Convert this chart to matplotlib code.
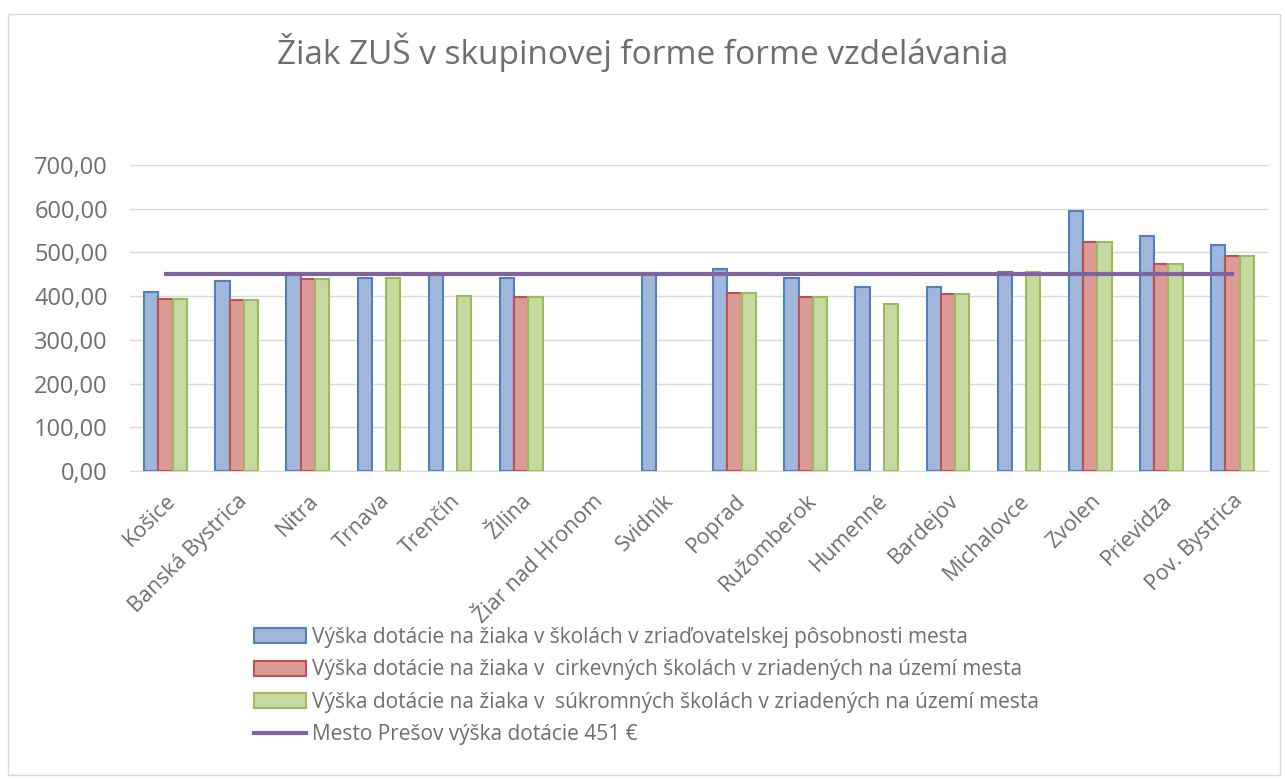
import numpy as np
import matplotlib
matplotlib.use("Agg")
import matplotlib.pyplot as plt
from matplotlib.patches import Rectangle, Patch
from matplotlib.lines import Line2D

plt.rcParams['font.family'] = ['Open Sans', 'DejaVu Sans']

categories = ["Košice", "Banská Bystrica", "Nitra", "Trnava", "Trenčín", "Žilina",
              "Žiar nad Hronom", "Svidník", "Poprad", "Ružomberok", "Humenné",
              "Bardejov", "Michalovce", "Zvolen", "Prievidza", "Pov. Bystrica"]
mestske = [410, 435, 452, 442, 452, 442, np.nan, 452, 462, 442, 422, 422, 456, 595, 537, 518]
cirkevne = [394, 391, 439, np.nan, np.nan, 397, np.nan, np.nan, 407, 397, np.nan, 405, np.nan, 524, 473, 492]
sukromne = [394, 391, 439, 442, 400, 397, np.nan, np.nan, 407, 397, 381, 405, 456, 524, 473, 492]
presov = 451
yticks = [0, 100, 200, 300, 400, 500, 600, 700]
labels = ["Výška dotácie na žiaka v školách v zriaďovatelskej pôsobnosti mesta",
          "Výška dotácie na žiaka v  cirkevných školách v zriadených na území mesta",
          "Výška dotácie na žiaka v  súkromných školách v zriadených na území mesta",
          "Mesto Prešov výška dotácie 451 €"]
title = "Žiak ZUŠ v skupinovej forme forme vzdelávania"

W, H = 1285, 783
txt = '#6e6e6e'
fig = plt.figure(figsize=(W / 100, H / 100), dpi=100)
fig.patches.append(Rectangle((8 / W, 1 - 775 / H), (1280 - 8) / W, (775 - 14) / H,
                             transform=fig.transFigure, fill=False,
                             edgecolor='#d9d9d9', linewidth=1))

ax = fig.add_axes([130 / W, 1 - 471 / H, (1268 - 130) / W, (471 - 165) / H])
x = np.arange(len(categories))
bw = 0.2
face = ['#a0b6db', '#dc9b99', '#c6d9a0']
edge = ['#4f81bd', '#c0504d', '#9bbb59']
for i, vals in enumerate([mestske, cirkevne, sukromne]):
    ax.bar(x + (i - 1) * bw, vals, bw, color=face[i], edgecolor=edge[i], linewidth=1.5,
           zorder=3)
ax.plot([x[0], x[-1]], [presov, presov], color='#8064a2', linewidth=3, zorder=4)

ax.set_xlim(-0.5, len(categories) - 0.5)
ax.set_ylim(0, 700)
ax.set_yticks(yticks)
ax.set_yticklabels([f"{v:,.2f}".replace('.', ',') for v in yticks], fontsize=17, color=txt)
ax.set_xticks(x)
ax.set_xticklabels(categories, rotation=45, ha='right', rotation_mode='anchor',
                   fontsize=15.5, color=txt)
ax.tick_params(axis='y', length=0, pad=16)
ax.tick_params(axis='x', length=0, pad=14)
ax.grid(axis='y', color='#d9d9d9', linewidth=1, zorder=0)
for s in ['left', 'right', 'top']:
    ax.spines[s].set_visible(False)
ax.spines['bottom'].set_color('#d9d9d9')

fig.text(643 / W, 1 - 52 / H, title, ha='center', va='center', fontsize=24, color=txt)

handles = [Patch(facecolor=face[i], edgecolor=edge[i], linewidth=1.5) for i in range(3)]
handles.append(Line2D([0], [0], color='#8064a2', linewidth=3))
fig.legend(handles, labels, loc='upper left', bbox_to_anchor=(254 / W, 1 - 627 / H),
           frameon=False, fontsize=15, labelcolor=txt, handlelength=2.5,
           handleheight=0.75, handletextpad=0.3, labelspacing=0.55, borderaxespad=0,
           borderpad=0)

fig.savefig("out.png", dpi=100)
